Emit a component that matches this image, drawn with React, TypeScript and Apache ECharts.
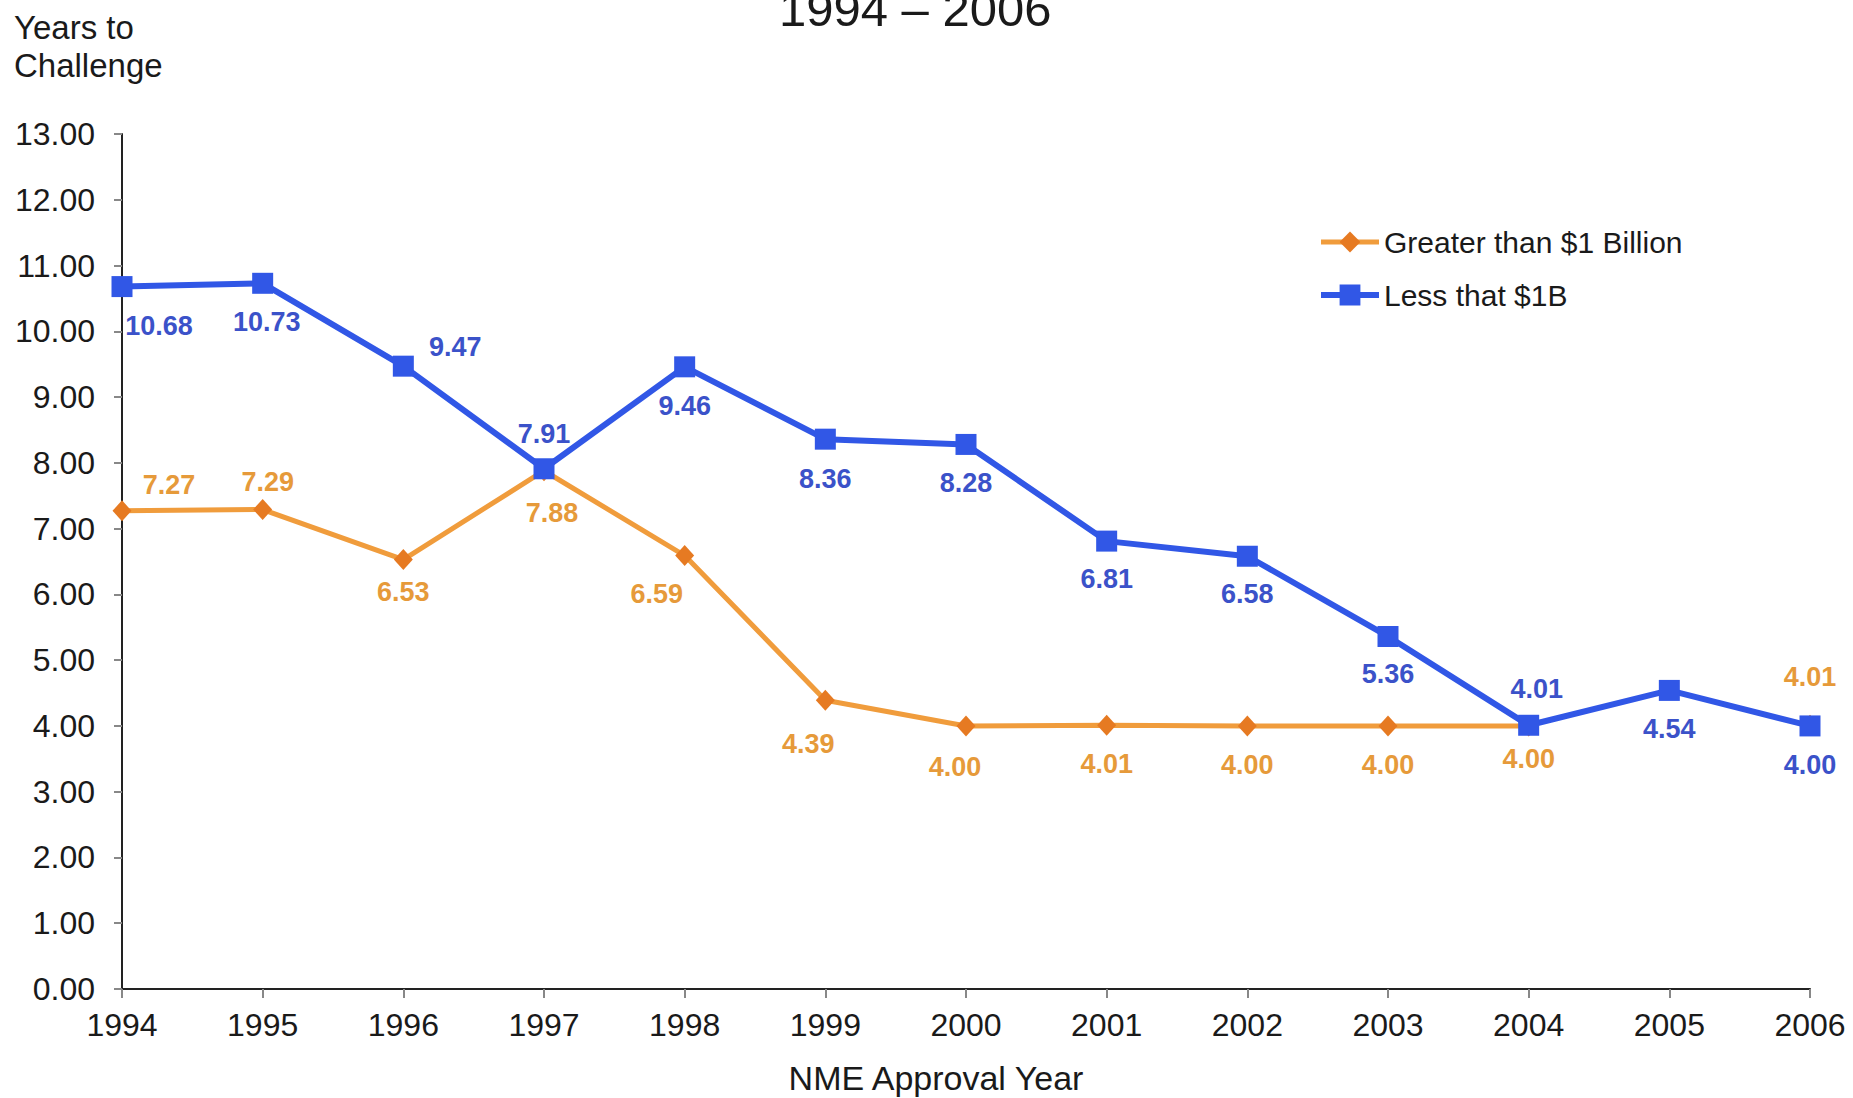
import React, { useEffect, useRef } from "react";
import * as echarts from "echarts";

const years = ["1994", "1995", "1996", "1997", "1998", "1999", "2000", "2001", "2002", "2003", "2004", "2005", "2006"];
const greaterThan1B = [7.27, 7.29, 6.53, 7.88, 6.59, 4.39, 4.0, 4.01, 4.0, 4.0, 4.0, null, 4.01];
const lessThan1B = [10.68, 10.73, 9.47, 7.91, 9.46, 8.36, 8.28, 6.81, 6.58, 5.36, 4.01, 4.54, 4.0];
const yTickMin = 0;
const yTickMax = 13;
const yTickStep = 1;

const FONT = "'Liberation Sans', Arial, sans-serif";
const BLUE = "#3157E6";
const BLUE_LABEL = "#3B52C9";
const ORANGE = "#F09C3C";
const ORANGE_MARK = "#E67A22";
const ORANGE_LABEL = "#E69A3A";

// label offsets (styling, px relative to point)
const blueOffsets = [[37, 39], [4, 39], [52, -19], [0, -35], [0, 39], [0, 40], [0, 39], [0, 38], [0, 38], [0, 38], [8, -36], [0, 39], [0, 39]];
const orangeOffsets = [[47, -26], [5, -28], [0, 32], [8, 42], [-28, 38], [-17, 44], [-11, 41], [0, 39], [0, 39], [0, 39], [0, 33], [0, 0], [0, -48]];

export default function App() {
  const ref = useRef<HTMLDivElement>(null);
  useEffect(() => {
    if (!ref.current) return;
    const chart = echarts.init(ref.current, null, { renderer: "svg" });
    const fmt = (p: any) => (typeof p.value === "number" ? p.value.toFixed(2) : "");
    chart.setOption({
      animation: false,
      backgroundColor: "#ffffff",
      textStyle: { fontFamily: FONT },
      title: [
        {
          text: "1994 – 2006",
          left: 774,
          top: -21,
          textStyle: { fontSize: 49, fontWeight: "normal", color: "#1a1a1a", fontFamily: FONT },
        },
        {
          text: "Years to\nChallenge",
          left: 9,
          top: 3,
          textStyle: { fontSize: 33, lineHeight: 38, fontWeight: "normal", color: "#1a1a1a", fontFamily: FONT },
        },
      ],
      legend: {
        orient: "vertical",
        left: 1313,
        top: 222,
        itemWidth: 58,
        itemHeight: 26,
        itemGap: 23,
        textStyle: { fontSize: 30, color: "#1a1a1a", fontFamily: FONT },
        data: [
          { name: "Greater than $1 Billion", lineStyle: { width: 5, color: ORANGE }, itemStyle: { color: ORANGE_MARK } },
          { name: "Less that $1B", lineStyle: { width: 6, color: BLUE }, itemStyle: { color: BLUE } },
        ],
      },
      grid: { left: 122, right: 43, top: 134, bottom: 109, containLabel: false, outerBoundsMode: "none" },
      xAxis: {
        type: "category",
        data: years,
        boundaryGap: false,
        name: "NME Approval Year",
        nameLocation: "middle",
        nameGap: 72,
        nameTextStyle: { fontSize: 34, color: "#1a1a1a", fontFamily: FONT, padding: [0, 60, 0, 0] },
        axisLine: { lineStyle: { color: "#222", width: 2 } },
        axisTick: { show: true, length: 9, lineStyle: { color: "#888", width: 2 } },
        axisLabel: { fontSize: 32, color: "#1a1a1a", margin: 20, fontFamily: FONT },
        splitLine: { show: false },
      },
      yAxis: {
        type: "value",
        min: yTickMin,
        max: yTickMax,
        interval: yTickStep,
        axisLine: { show: true, lineStyle: { color: "#222", width: 2 } },
        axisTick: { show: true, length: 8, lineStyle: { color: "#888", width: 2 } },
        axisLabel: { fontSize: 32, color: "#1a1a1a", margin: 27, fontFamily: FONT, formatter: (v: number) => v.toFixed(2) },
        splitLine: { show: false },
      },
      series: [
        {
          name: "Greater than $1 Billion",
          type: "line",
          data: greaterThan1B.map((v, i) => ({ value: v, label: { offset: orangeOffsets[i] } })),
          connectNulls: false,
          symbol: "diamond",
          symbolSize: [19, 21],
          lineStyle: { color: ORANGE, width: 5 },
          itemStyle: { color: ORANGE_MARK },
          label: {
            show: true,
            position: "inside",
            formatter: fmt,
            color: ORANGE_LABEL,
            fontSize: 27,
            fontWeight: "bold",
            fontFamily: FONT,
          },
        },
        {
          name: "Less that $1B",
          type: "line",
          data: lessThan1B.map((v, i) => ({ value: v, label: { offset: blueOffsets[i] } })),
          symbol: "rect",
          symbolSize: 21,
          lineStyle: { color: BLUE, width: 6 },
          itemStyle: { color: BLUE },
          label: {
            show: true,
            position: "inside",
            formatter: fmt,
            color: BLUE_LABEL,
            fontSize: 27,
            fontWeight: "bold",
            fontFamily: FONT,
          },
        },
      ],
    });
    return () => chart.dispose();
  }, []);
  return (
    <div
      ref={ref}
      style={{ position: "fixed", left: 0, top: 0, width: 1853, height: 1098, background: "#fff" }}
    />
  );
}
